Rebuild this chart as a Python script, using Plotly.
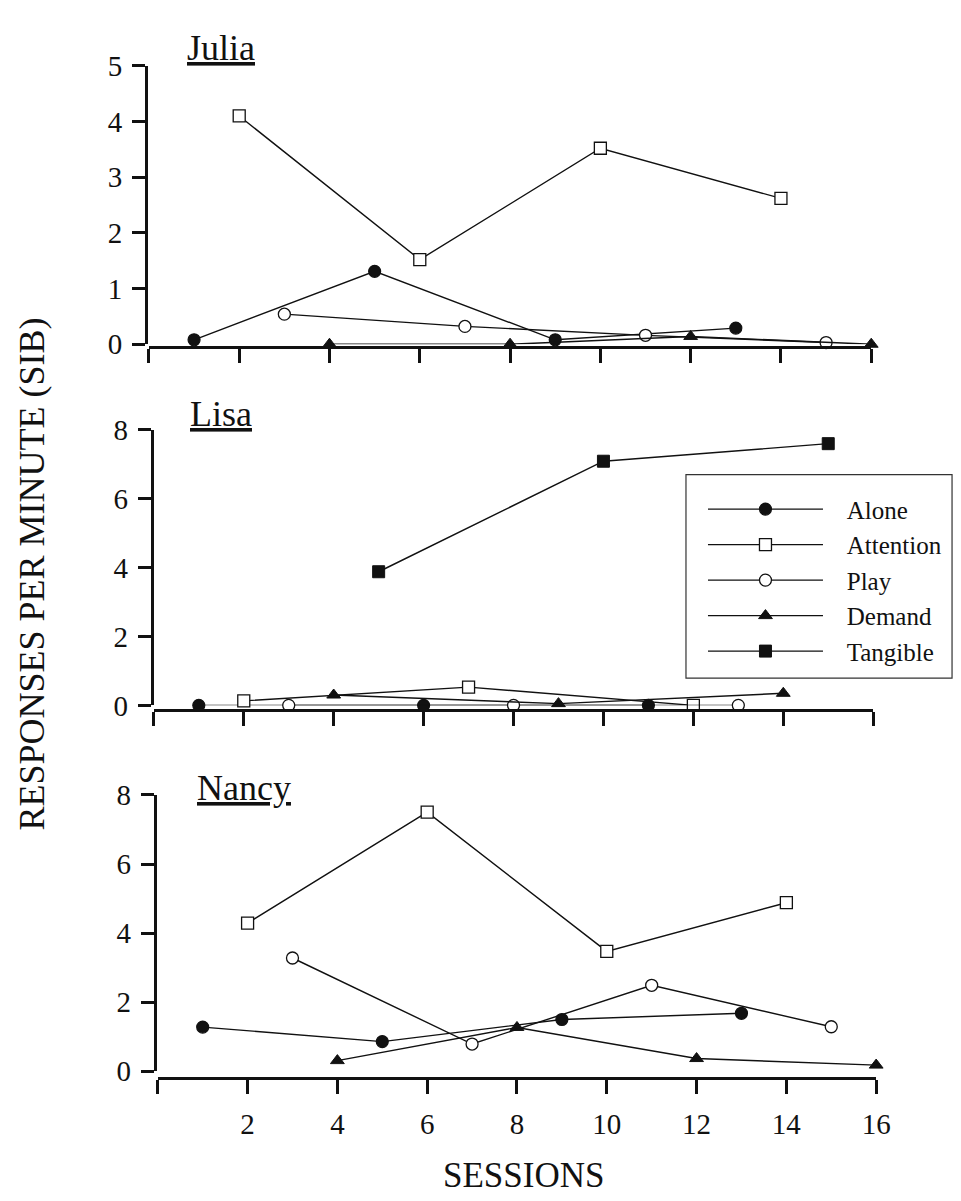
import plotly.graph_objects as go

# ---------------- data ----------------
series_names = ["Alone", "Attention", "Play", "Demand", "Tangible"]

# Julia
julia_alone_x = [1, 5, 9, 13]
julia_alone_y = [0.08, 1.31, 0.08, 0.29]
julia_attention_x = [2, 6, 10, 14]
julia_attention_y = [4.1, 1.52, 3.52, 2.62]
julia_play_x = [3, 7, 11, 15]
julia_play_y = [0.54, 0.32, 0.16, 0.03]
julia_demand_x = [4, 8, 12, 16]
julia_demand_y = [0.0, 0.0, 0.14, 0.0]

# Lisa
lisa_alone_x = [1, 6, 11]
lisa_alone_y = [0.0, 0.0, 0.0]
lisa_attention_x = [2, 7, 12]
lisa_attention_y = [0.13, 0.53, 0.0]
lisa_play_x = [3, 8, 13]
lisa_play_y = [0.0, 0.0, 0.0]
lisa_demand_x = [4, 9, 14]
lisa_demand_y = [0.3, 0.05, 0.35]
lisa_tangible_x = [5, 10, 15]
lisa_tangible_y = [3.88, 7.09, 7.6]

# Nancy
nancy_alone_x = [1, 5, 9, 13]
nancy_alone_y = [1.28, 0.86, 1.5, 1.68]
nancy_attention_x = [2, 6, 10, 14]
nancy_attention_y = [4.29, 7.5, 3.47, 4.88]
nancy_play_x = [3, 7, 11, 15]
nancy_play_y = [3.28, 0.79, 2.49, 1.29]
nancy_demand_x = [4, 8, 12, 16]
nancy_demand_y = [0.31, 1.27, 0.37, 0.18]

panel_names = ["Julia", "Lisa", "Nancy"]
x_tick_vals = [0, 2, 4, 6, 8, 10, 12, 14, 16]
x_tick_text = ["", "2", "4", "6", "8", "10", "12", "14", "16"]
julia_y_ticks = [0, 1, 2, 3, 4, 5]
lisa_y_ticks = [0, 2, 4, 6, 8]
nancy_y_ticks = [0, 2, 4, 6, 8]

# ---------------- styling ----------------
W, H = 961, 1201
FONT = "Liberation Serif"
INK = "#111111"
NB = "\u00a0"

def px_x(p):
    return p / W

def px_y(p):
    return 1 - p / H

styles = {
    "Alone": dict(symbol="circle", color=INK, line=dict(color=INK, width=1.2), size=12),
    "Attention": dict(symbol="square", color="white", line=dict(color=INK, width=1.3), size=12),
    "Play": dict(symbol="circle", color="white", line=dict(color=INK, width=1.3), size=12),
    "Demand": dict(symbol="triangle-up", color=INK, line=dict(color=INK, width=1), size=12),
    "Tangible": dict(symbol="square", color=INK, line=dict(color=INK, width=1), size=12),
}

panels = [
    dict(ax="", data={
        "Alone": (julia_alone_x, julia_alone_y),
        "Attention": (julia_attention_x, julia_attention_y),
        "Play": (julia_play_x, julia_play_y),
        "Demand": (julia_demand_x, julia_demand_y),
    }, yr=[0, 5], yt=julia_y_ticks, top=43, bot=329, xline=332, yline=140,
        x0=143, x1=876, show_xlabels=False, legend=False, title_xy=(180, 25)),
    dict(ax="2", data={
        "Alone": (lisa_alone_x, lisa_alone_y),
        "Attention": (lisa_attention_x, lisa_attention_y),
        "Play": (lisa_play_x, lisa_play_y),
        "Demand": (lisa_demand_x, lisa_demand_y),
        "Tangible": (lisa_tangible_x, lisa_tangible_y),
    }, yr=[0, 8], yt=lisa_y_ticks, top=417, bot=700, xline=705, yline=146,
        x0=148, x1=878, show_xlabels=False, legend=True, title_xy=(183, 401)),
    dict(ax="3", data={
        "Alone": (nancy_alone_x, nancy_alone_y),
        "Attention": (nancy_attention_x, nancy_attention_y),
        "Play": (nancy_play_x, nancy_play_y),
        "Demand": (nancy_demand_x, nancy_demand_y),
    }, yr=[0, 8], yt=nancy_y_ticks, top=792, bot=1076, xline=1083, yline=149,
        x0=152, x1=881, show_xlabels=True, legend=False, title_xy=(190, 785)),
]

fig = go.Figure()
layout = dict(
    width=W, height=H,
    margin=dict(l=0, r=0, t=0, b=0),
    paper_bgcolor="white", plot_bgcolor="rgba(0,0,0,0)",
    font=dict(family=FONT, color=INK),
    annotations=[], shapes=[],
)

for i, p in enumerate(panels):
    xa = "x" + p["ax"]
    ya = "y" + p["ax"]
    for name in series_names:
        if name not in p["data"]:
            continue
        xs, ys = p["data"][name]
        fig.add_trace(go.Scatter(
            x=xs, y=ys, mode="lines+markers", name=NB * 3 + name,
            xaxis=xa, yaxis=ya, cliponaxis=False,
            line=dict(color=INK, width=1.4),
            marker=styles[name],
            showlegend=p["legend"], legendrank=series_names.index(name),
        ))
    layout["xaxis" + p["ax"]] = dict(
        domain=[px_x(p["x0"]), px_x(p["x1"])], range=[0, 16],
        anchor="free", position=px_y(p["xline"]),
        showline=True, linecolor=INK, linewidth=3,
        ticks="outside", ticklen=14, tickwidth=2.5, tickcolor=INK,
        tickvals=x_tick_vals, ticktext=x_tick_text,
        showticklabels=p["show_xlabels"],
        tickfont=dict(family=FONT, size=29, color=INK),
        ticklabelstandoff=5,
        showgrid=False, zeroline=False, fixedrange=True,
    )
    layout["yaxis" + p["ax"]] = dict(
        domain=[px_y(p["bot"]), px_y(p["top"])], range=p["yr"],
        anchor="free", position=px_x(p["yline"]),
        showline=True, linecolor=INK, linewidth=3,
        ticks="outside", ticklen=13, tickwidth=2.5, tickcolor=INK,
        tickvals=p["yt"],
        tickfont=dict(family=FONT, size=29, color=INK),
        ticklabelstandoff=4,
        showgrid=False, zeroline=False, fixedrange=True,
    )
    tx, ty = p["title_xy"]
    layout["annotations"].append(dict(
        text="<u>" + panel_names[i] + "</u>", x=px_x(tx), y=px_y(ty),
        xref="paper", yref="paper", xanchor="left", yanchor="middle",
        showarrow=False, font=dict(family=FONT, size=36, color=INK),
    ))

layout["annotations"].append(dict(
    text="RESPONSES PER MINUTE (SIB)", x=px_x(24), y=px_y(565),
    xref="paper", yref="paper", xanchor="center", yanchor="middle",
    textangle=-90, showarrow=False, font=dict(family=FONT, size=36, color=INK),
))
layout["annotations"].append(dict(
    text="SESSIONS", x=px_x(523), y=px_y(1183),
    xref="paper", yref="paper", xanchor="center", yanchor="middle",
    showarrow=False, font=dict(family=FONT, size=35, color=INK),
))

# legend frame (decoration) and legend entries
layout["shapes"].append(dict(
    type="rect", xref="paper", yref="paper",
    x0=px_x(688), x1=px_x(958), y0=px_y(672), y1=px_y(463),
    line=dict(color="#333333", width=1.2), fillcolor="white", layer="above",
))
layout["legend"] = dict(
    x=px_x(688), y=px_y(475), xanchor="left", yanchor="top",
    bgcolor="rgba(0,0,0,0)", borderwidth=0,
    font=dict(family=FONT, size=25, color=INK),
    itemwidth=115, indentation=17, tracegroupgap=0,
)

fig.update_layout(**layout)
fig.write_html("out.html")
